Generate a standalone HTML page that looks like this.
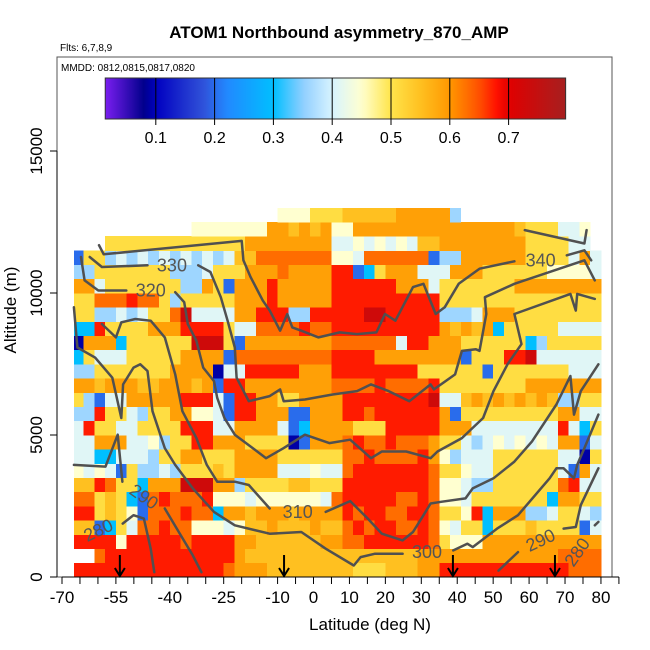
<!DOCTYPE html>
<html><head><meta charset="utf-8"><style>
html,body{margin:0;padding:0;background:#fff;}
svg{display:block;font-family:"Liberation Sans",sans-serif;}
</style></head><body>
<svg id="chart" width="650" height="650" viewBox="0 0 650 650" xmlns="http://www.w3.org/2000/svg">
<text x="339" y="38" text-anchor="middle" font-size="17" font-weight="bold">ATOM1 Northbound asymmetry_870_AMP</text>
<text x="60" y="51" font-size="10">Flts: 6,7,8,9</text>
<g id="heat"></g>
<g id="contours"></g>
<g id="arrows"></g>
<rect x="57" y="57" width="555" height="520" fill="none" stroke="#555" stroke-width="1"/>
<text x="61" y="71" font-size="10">MMDD: 0812,0815,0817,0820</text>
<g id="cbar"></g>
<g id="axes"></g>
<text x="370" y="630" text-anchor="middle" font-size="17">Latitude (deg N)</text>
<text transform="translate(16,310) rotate(-90)" text-anchor="middle" font-size="17">Altitude (m)</text>
</svg>
<script>
const NS="http://www.w3.org/2000/svg";
// heatmap data: rows from 0 m upward, 500 m each; columns 3 deg each starting -67
const latStart=-67, latStep=3, altStep=500;
const codeValues={"0":0.09,"1":0.2,"2":0.3,"3":0.36,"4":0.41,"5":0.45,"6":0.51,"7":0.55,"8":0.59,"9":0.63,"A":0.675,"B":0.73};
const rows=[
"AAAAAAAAAAAAAA9"+"888777777"+"7766677788"+"AAAAAAAAAAAA"+"999",
".."+"9AAAAAAAAAAAA"+"877777777777777778888"+"8888888889999",
"AAAA5AAAAA9AAAA"+"8877777788"+"99AAAAAA9"+"6555"+"88888888888",
"77"+"12"+"6"+"4"+"99A99"+"55545"+"778777877"+"9A9AA99A9"+"54"+"662"+"66676666"+"1"+"4",
"AA"+"6765"+"1"+"999A99"+"2"+"88788878888"+"A9AA99AA9"+"665"+"A"+"2"+"888"+"334"+"66"+"43",
"99"+"676"+"21"+"9A999A"+"55545555554"+"9AAAAA99A9"+"554"+"6666666"+"2"+"88"+"66",
"77"+"A9"+"66"+"2"+"888"+"BBB"+"88"+"3"+"666677666"+"AAAAAAAA9"+"554"+"33"+"666666"+"9A"+"44",
"5454"+"1"+"6"+"3343"+"66676"+"8888"+"444544"+"9AAAAAAA9"+"665"+"44"+"666666"+"4"+"1"+"8"+"4",
"44"+"22"+"444"+"3"+"66"+"88"+"666"+"8888"+"666666"+"99A9999A8"+"53"+"444"+"666666"+"44"+"0"+"6",
"44"+"888"+"445"+"3"+"66"+"AA"+"888"+"6666"+"01"+"888"+"9A99A9998"+"66"+"434"+"545454"+"88"+"1"+"4",
"4"+"A"+"66"+"44"+"6666"+"AAA"+"44"+"8888"+"4"+"12"+"8888"+"666"+"AAAAA"+"888"+"44444444"+"A"+"4"+"26",
"33"+"A"+"66"+"43"+"66"+"88"+"554"+"1"+"AA"+"888"+"11"+"888"+"AA"+"9"+"AAAAAA"+"8"+"1"+"666666666"+"88"+"44",
"6"+"31"+"44"+"88888"+"AAA"+"4"+"1"+"AA"+"88"+"66"+"8888"+"AAAAAAAA"+"B"+"44"+"787878787"+"33"+"66",
"8878887788878"+"1"+"AA"+"88888888"+"9999A9999A"+"66666666"+"8888888",
"33"+"6666666"+"8888"+"0"+"44"+"AAAAA"+"888"+"AAAAAAAA"+"666666"+"1"+"6666666"+"444",
"2"+"6"+"444"+"66666"+"8888"+"1"+"999999999"+"AAAA"+"88888888"+"1"+"666"+"AAB"+"444444",
"0"+"888"+"2"+"666666"+"BBB"+"6"+"1"+"88888888"+"999999"+"4"+"AA"+"888"+"666666"+"23"+"66666",
"22"+"A"+"6666"+"888"+"AAAA"+"6"+"44"+"9999A99"+"AAAAAAAAAA"+"87878"+"2"+"66666"+"4444",
"66"+"33434"+"66"+"9B"+"4444"+"88"+"AAA"+"33"+"AA"+"AAABBAAAAA"+"3334"+"888"+"66666666",
"66"+"999A99"+"6366666"+"888A88888"+"AAAAAAAAAA"+"666"+"66666666666"+"6",
"88"+"4"+"6666666"+"33"+"8"+"6"+"1"+"888A88888"+"AAAAAA"+"888"+"4"+"6666666"+"88888888",
"33"+"6666666"+"3334"+"666"+"88898888"+"AA"+"12"+"6"+"888"+"444"+"888"+"666666"+"55554",
"1"+"66"+"343434343434"+"77"+"9999999"+"554"+"999999"+"1"+"33"+"888888"+"6666"+"48"+"4",
"..."+"6666666666666"+"88888888"+"44545454"+"7788"+"888888"+"6666"+"44"+".",
"..........."+"5555555"+"88"+"7878"+"55"+"8888888888"+"888887"+"666"+"445"+".",
"..................."+"5556"+"667777788888"+"3"+"............."
];
// contour data [lat, alt], null = gap (label)
const c340=[[-59.7,11683],[-58.4,11364],[-20,11836],[-19.5,11151],[-17.5,10560],[-14.1,9734],[-12.2,9380],[-9.3,8671],[-7.3,9261],[-5.9,8789],[-3.4,8671],[1.4,8435],[7.3,8612],[12.1,8553],[17.5,8612],[19.9,9261],[22.8,9025],[27.7,10207],[30.6,10324],[34,9261],[36.5,9498],[40.4,10324],[46.2,10856],[55.9,11116],null,[70.5,11328],[75.4,11505],[77.3,11151]];
const c350=[[58.8,12214],[75.4,11742],[76,12214]];
const c330=[[-62.3,11269],[-58.9,10915],[-46.2,10974],null,[-32.1,10974],[-28.7,10738],[-25.8,9852],[-23.9,9025],[-21.9,8080],[-21.4,7017],[-18,6191],[-12.2,6368],[-9.3,6604],[-8.3,6191],[-2.4,6250],[5.3,6427],[12.1,6545],[16,6781],[20.9,6545],[26.7,6191],[32.6,6781],[33.5,6604],[39.4,7135],[41.3,7962],[45.2,8021],[46.2,7962],[48.1,9261],[47.7,9852],[55.9,10324],[75.4,11151],[78.3,10442]];
const c320=[[-64.7,11269],[-63.7,10442],[-59.9,10088],[-52.1,10088],null,[-38.5,10029],[-36,9675],[-35,8907],[-32.6,8317],[-30.7,7372],[-27.7,6899],[-26.8,6309],[-24.8,5600],[-21.9,5010],[-13.2,4183],[-8.3,4537],[-2.4,5010],[4.4,4715],[10.2,4833],[16,4183],[19,4419],[25.8,4419],[32.6,4183],[34.5,4419],[41.3,4892],[47.2,5600],[50.1,6545],[54,7490],[57.9,8199],[55.9,9261],[71.5,9970],[73,9380],[73.4,9970],[78.3,9793]];
const c310=[[-58.9,8907],[-55,8435],[-53.5,8966],[-49.6,9084],[-45.3,9025],[-41.4,8435],[-38.5,7136],[-36.5,5837],[-32.6,4892],[-29.7,3947],[-26.8,3357],[-21.9,3357],[-18,3239],[-12.2,2411],null,[3.4,2293],[10.2,2671],[15.1,2057],[19,1526],[24.8,1290],[27.7,1585],[30.6,2175],[32.6,2589],[35.5,2648],[42.3,2766],[44.3,3120],[50.1,3475],[55.9,4065],[60.8,4774],[67.6,6073],[71.5,7077],[72.5,5719],[74.4,6545],[79.3,7490]];
const c300=[[-66.7,9498],[-65.7,8080],[-60.8,7726],[-56,7017],[-53.5,5600],[-53,6781],[-50.1,7372],[-48.2,7490],[-46.2,7254],[-44.8,5837],[-41.4,4537],[-38.5,3947],[-33.6,3120],[-27.7,2293],[-21.9,1821],[-12.2,1526],[-3.4,1585],[3.4,995],[11.2,404],[13.1,699],[17,818],[24.8,818],null,[38.9,936],[42.8,1172],[44.3,1054],[51.1,1703],[56.9,2175],[65.7,3475],[67.6,3829],[69.6,3829],[72.5,3475],[73.4,3947],[75.4,4537],[79.3,5719]];
const c290=[[-66.7,3947],[-57.9,3888],[-54.5,5010],[-53.2,3357],null,[-41.4,2411],[-37.5,1585],[-33.6,759],[-31.2,168],null,[51.5,227],[56.9,877],null,[69.6,1703],[73,1762],[74.4,2530],[79.3,3829]];
const c280=[[-53.1,1880],[-50.1,2175],[-47.2,2057],[-45.3,995],[-44.3,168],null,[78.3,1821],[79.3,1939]];
const contourLabels=["340","330","320","310","300","290","280","290","280"];
const labelLat=[63.2,-39.4,-45.3,-4.4,31.6,-47.2,-59.9,63.2,73.4];
const labelAlt=[11151,10974,10088,2293,876,2825,1644,1290,876];
const labelRot=[0,0,0,0,0,35,-25,-25,-55];
const arrowLats=[-53.9,-8.2,38.8,67.2];
const xTicks=[-70,-65,-60,-55,-50,-45,-40,-35,-30,-25,-20,-15,-10,-5,0,5,10,15,20,25,30,35,40,45,50,55,60,65,70,75,80,85];
const xTickLabels=[-70,-55,-40,-25,-10,0,10,20,30,40,50,60,70,80];
const yTicks=[0,5000,10000,15000];
const cbTicks=[0.1,0.2,0.3,0.4,0.5,0.6,0.7];

const X=lat=>62+(lat+70)*3.593;
const Y=alt=>577-alt*0.0284;
const CBX=v=>97+v*588;
const stops=[[0.014,[122,30,240]],[0.08,[0,0,139]],[0.1,[0,0,192]],[0.18,[48,80,216]],[0.22,[34,136,255]],[0.3,[0,191,255]],[0.35,[143,206,255]],[0.4,[216,244,255]],[0.45,[255,255,208]],[0.5,[255,228,74]],[0.55,[255,192,32]],[0.6,[255,152,0]],[0.65,[255,80,0]],[0.68,[255,16,0]],[0.7,[224,0,0]],[0.8,[165,32,32]]];
function color(v){
  if(v<=stops[0][0])return "rgb("+stops[0][1]+")";
  for(let i=1;i<stops.length;i++){
    if(v<=stops[i][0]){const a=stops[i-1],b=stops[i],t=(v-a[0])/(b[0]-a[0]);
      return "rgb("+a[1].map((c,k)=>Math.round(c+(b[1][k]-c)*t)).join(",")+")";}
  }
  return "rgb("+stops[stops.length-1][1]+")";
}
function mk(tag,attrs,parent){const e=document.createElementNS(NS,tag);for(const k in attrs)e.setAttribute(k,attrs[k]);parent.appendChild(e);return e;}

const heat=document.getElementById('heat');
rows.forEach((row,r)=>{
  for(let i=0;i<row.length;i++){
    const ch=row[i]; if(!(ch in codeValues))continue;
    const l0=Math.max(latStart+i*latStep,-66.7), l1=Math.min(latStart+(i+1)*latStep,80);
    if(l1<=l0)continue;
    const x0=X(l0),x1=X(l1),y1=Y(r*altStep),y0=Y((r+1)*altStep);
    const e=mk('rect',{x:x0.toFixed(2),y:y0.toFixed(2),width:(x1-x0+0.4).toFixed(2),height:(y1-y0+0.4).toFixed(2),fill:color(codeValues[ch]),'shape-rendering':'crispEdges'},heat);
    
    
  }
});

const cg=document.getElementById('contours');
[c340,c350,c330,c320,c310,c300,c290,c280].forEach(c=>{
  let d="",pen=false;
  c.forEach(p=>{ if(!p){pen=false;return;} d+=(pen?"L":"M")+X(p[0]).toFixed(1)+","+Y(p[1]).toFixed(1); pen=true; });
  const e=mk('path',{d:d,fill:'none',stroke:'#505050','stroke-width':2.5,'stroke-linejoin':'round','stroke-linecap':'round'},cg);
  
  
});
contourLabels.forEach((t,i)=>{
  const x=X(labelLat[i]),y=Y(labelAlt[i]);
  const e=mk('text',{x:x,y:y+6,'text-anchor':'middle','font-size':18,fill:'#555',transform:'rotate('+labelRot[i]+' '+x+' '+y+')'},cg);
  e.textContent=t;
  
  
});

const ag=document.getElementById('arrows');
arrowLats.forEach(l=>{
  const x=X(l);
  const e=mk('path',{d:`M${x},555L${x},576M${x-5},568L${x},576L${x+5},568`,stroke:'#000','stroke-width':2,fill:'none'},ag);
  
  
});

const cb=document.getElementById('cbar');
const grad=mk('defs',{},cb);
const lg=mk('linearGradient',{id:'cbg',x1:'0',x2:'1',y1:'0',y2:'0'},grad);
for(let k=0;k<=60;k++){const v=0.014+(0.797-0.014)*k/60; mk('stop',{offset:(k/60),'stop-color':color(v)},lg);}
const cbr=mk('rect',{x:CBX(0.014),y:78,width:CBX(0.797)-CBX(0.014),height:41,fill:'url(#cbg)',stroke:'#333','stroke-width':1},cb);


cbTicks.forEach(v=>{
  const x=CBX(v);
  const ln=mk('line',{x1:x,x2:x,y1:78,y2:125,stroke:'#000','stroke-width':1},cb);
  
  
  const t=mk('text',{x:x,y:143,'text-anchor':'middle','font-size':16},cb);
  t.textContent=v.toFixed(1);
  
  
});

const ax=document.getElementById('axes');
const xl=mk('line',{x1:X(-70),x2:X(85),y1:577,y2:577,stroke:'#000','stroke-width':1},ax);


xTicks.forEach(v=>{
  const e=mk('line',{x1:X(v),x2:X(v),y1:577,y2:584,stroke:'#000','stroke-width':1},ax);
  
  
});
xTickLabels.forEach(v=>{
  const t=mk('text',{x:X(v),y:603,'text-anchor':'middle','font-size':17},ax);
  t.textContent=v;
  
  
});
const yl=mk('line',{x1:57,x2:57,y1:Y(0),y2:Y(15000),stroke:'#000','stroke-width':1},ax);


yTicks.forEach(v=>{
  const e=mk('line',{x1:50,x2:57,y1:Y(v),y2:Y(v),stroke:'#000','stroke-width':1},ax);
  
  
  const t=mk('text',{x:0,y:0,'text-anchor':'middle','font-size':17,transform:`translate(42,${Y(v)}) rotate(-90)`},ax);
  t.textContent=v;
  
  
});
</script>
</body></html>
